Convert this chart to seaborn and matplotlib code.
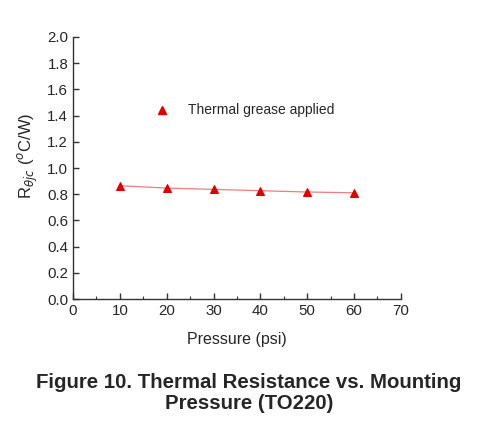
import numpy as np
import pandas as pd
import matplotlib
matplotlib.use("Agg")
import matplotlib.pyplot as plt
import seaborn as sns
from matplotlib.ticker import MultipleLocator

# data
pressure = [10, 20, 30, 40, 50, 60]
r_theta_jc = [0.865, 0.847, 0.837, 0.827, 0.817, 0.811]
series_label = "Thermal grease applied"

df = pd.DataFrame({"Pressure": pressure, "R": r_theta_jc})

sns.set_style("white")
plt.rcParams["font.family"] = ["Liberation Sans", "DejaVu Sans"]

fig = plt.figure(figsize=(4.9, 4.33), dpi=100)
ax = fig.add_axes([0.149, 0.309, 0.669, 0.606])

sns.lineplot(data=df, x="Pressure", y="R", ax=ax, color="#e88080", linewidth=0.9,
             marker="^", markersize=6, markerfacecolor="#e00000",
             markeredgecolor="#e00000")

# legend drawn as a marker + text inside the axes
ax.plot([19], [1.445], marker="^", color="#e00000", markersize=6, linestyle="none")
ax.text(24.5, 1.445, series_label, fontsize=10, va="center")

ax.set_xlim(0, 70)
ax.set_ylim(0, 2.0)
ax.xaxis.set_major_locator(MultipleLocator(10))
ax.xaxis.set_minor_locator(MultipleLocator(5))
ax.yaxis.set_major_locator(MultipleLocator(0.2))
ax.yaxis.set_major_formatter(matplotlib.ticker.FormatStrFormatter("%.1f"))

for s in ["top", "right"]:
    ax.spines[s].set_visible(False)
for s in ["left", "bottom"]:
    ax.spines[s].set_color("#333333")
    ax.spines[s].set_linewidth(1.0)

ax.tick_params(axis="both", which="major", direction="in", length=4, width=1,
               color="#333333", labelsize=10.8, bottom=True, left=True)
ax.tick_params(axis="x", which="minor", direction="in", length=2.5, width=0.8,
               color="#333333", bottom=True)

ax.set_xlabel("Pressure (psi)", fontsize=11.5, labelpad=10)
ax.set_ylabel("R$_{\\theta jc}$ ($^o$C/W)", fontsize=12, labelpad=8)
ax.yaxis.set_label_coords(-0.1, 0.545)

fig.text(0.508, 0.117, "Figure 10. Thermal Resistance vs. Mounting",
         ha="center", va="center", fontsize=14.7, fontweight="bold")
fig.text(0.508, 0.068, "Pressure (TO220)",
         ha="center", va="center", fontsize=14.7, fontweight="bold")

fig.savefig("out.png", dpi=100)
